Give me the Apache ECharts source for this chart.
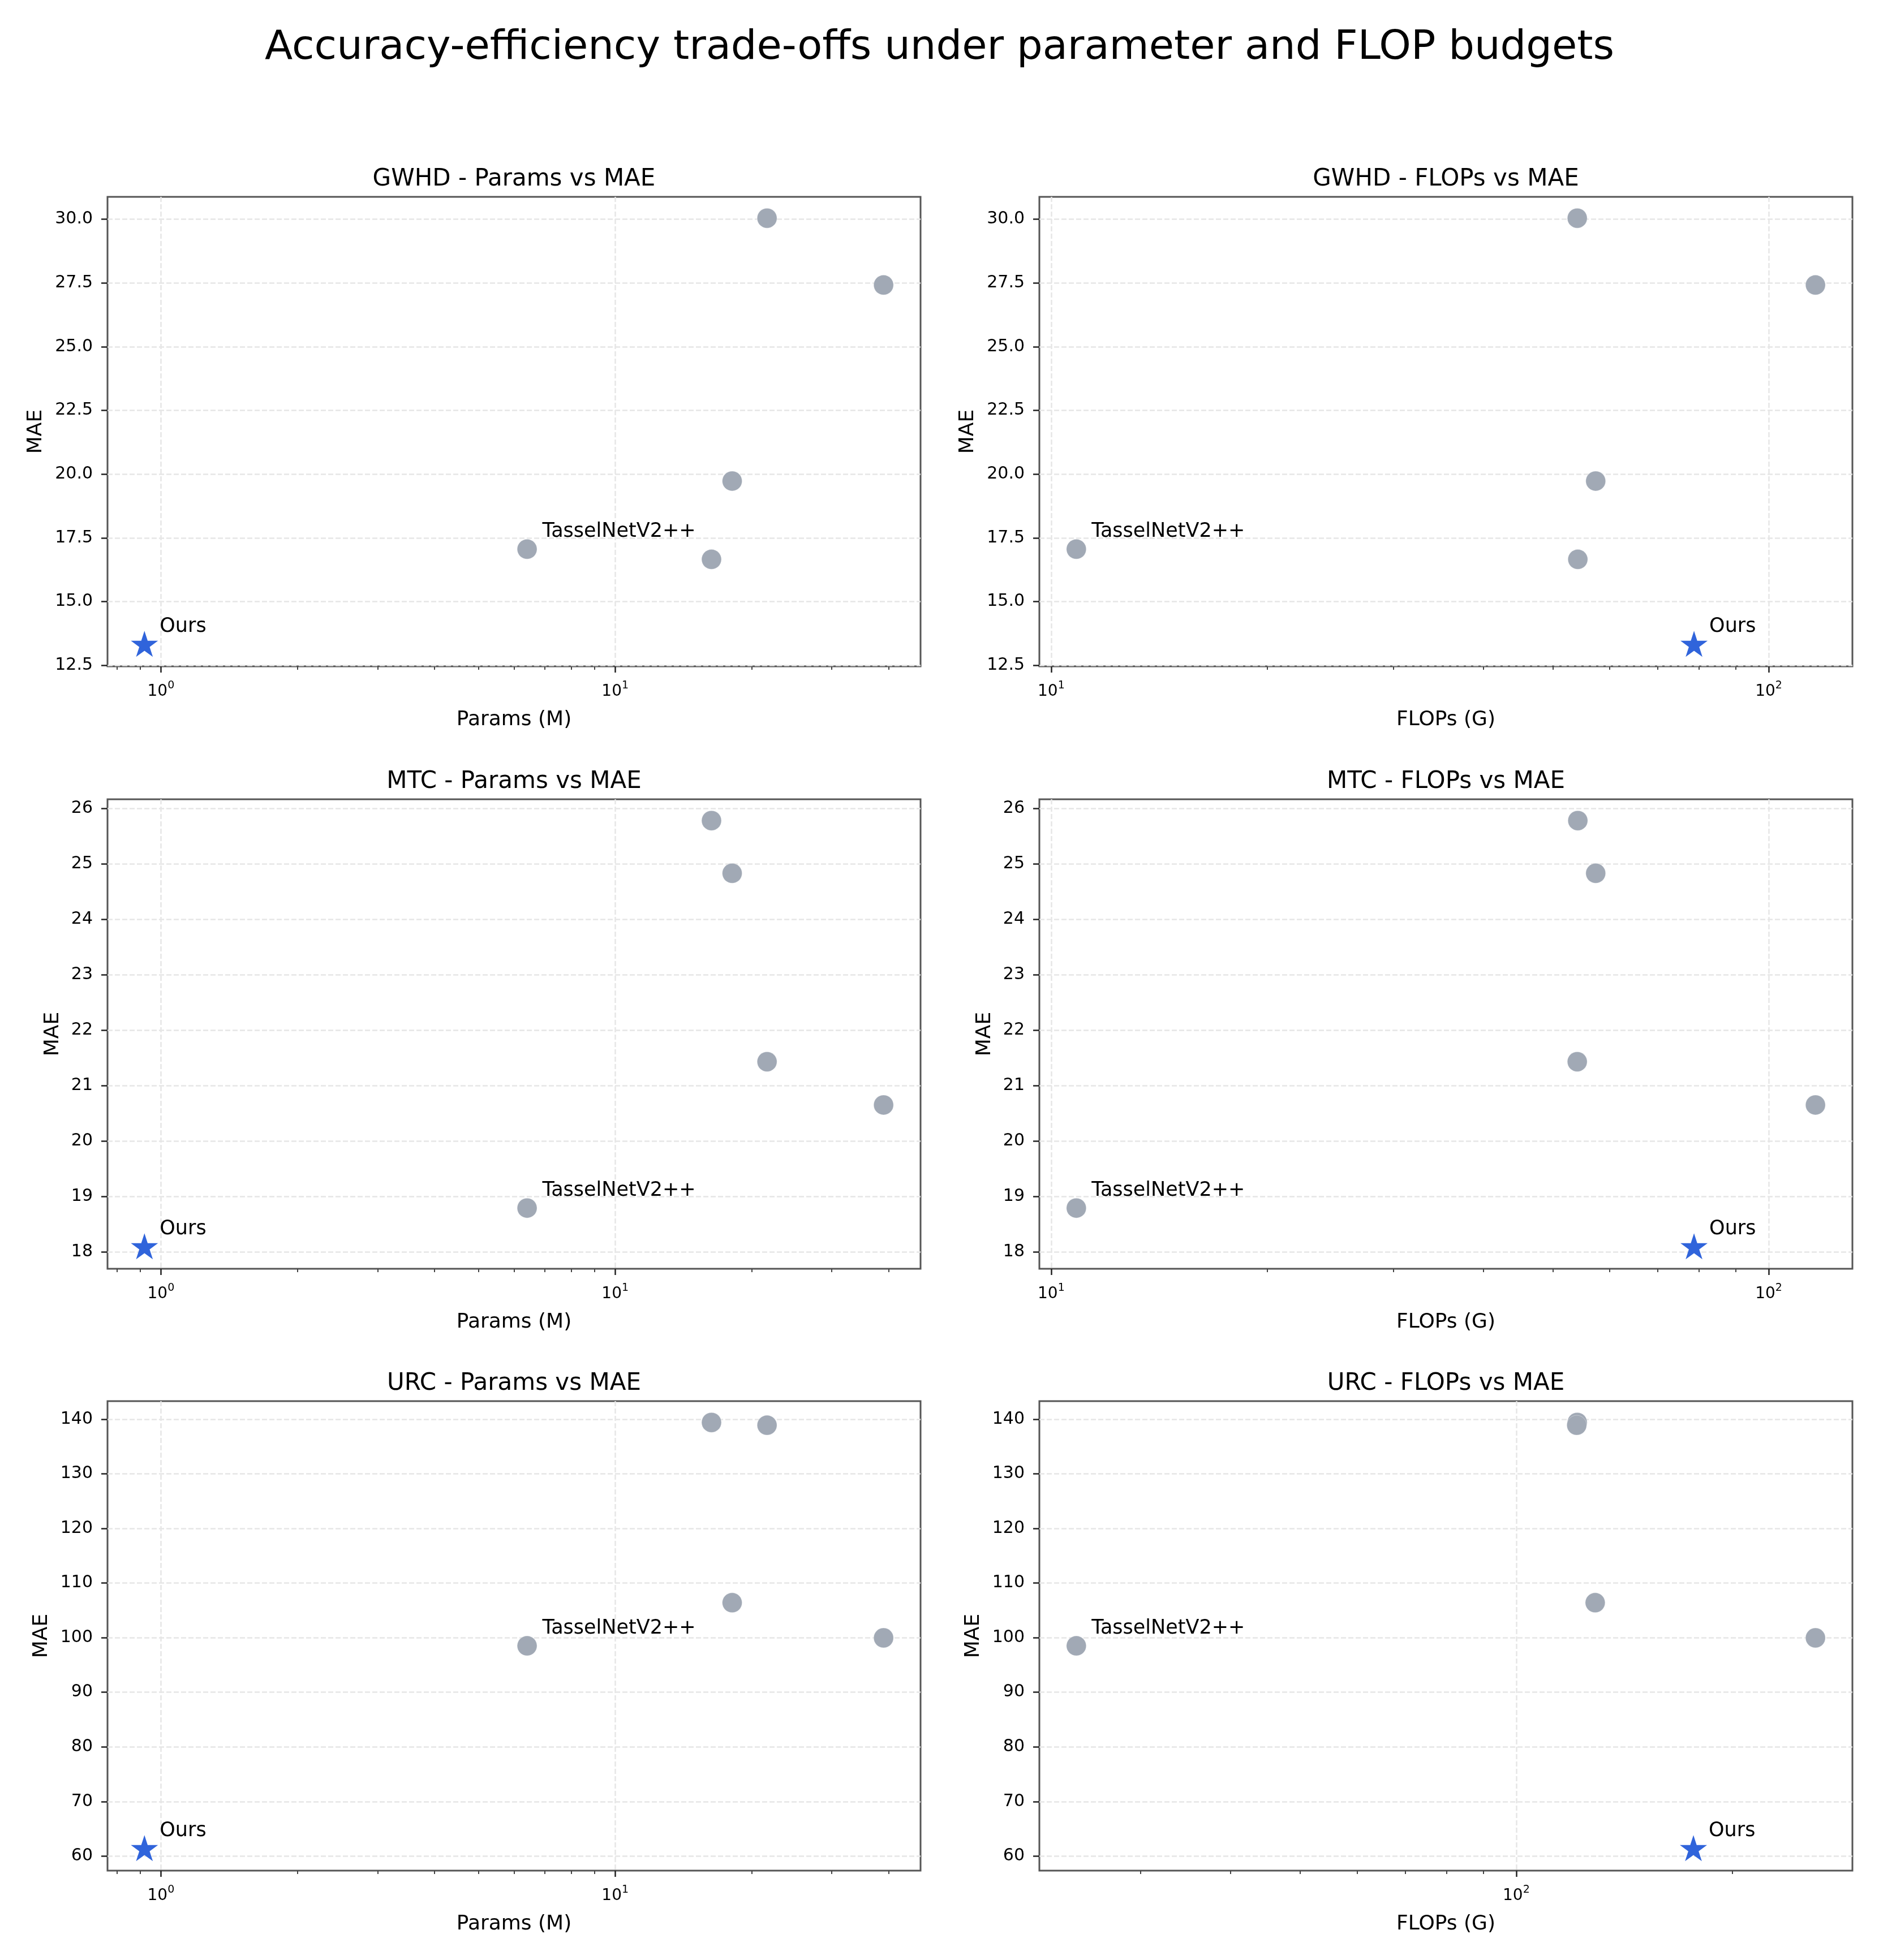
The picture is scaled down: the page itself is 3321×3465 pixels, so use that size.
<!DOCTYPE html>
<html>
<head>
<meta charset="UTF-8">
<title>Accuracy-efficiency trade-offs</title>
<script src="https://cdn.jsdelivr.net/npm/echarts@6/dist/echarts.min.js"></script>
<style>
  *{margin:0;padding:0}
  html,body{background:#fff;}
  #main{width:3321px;height:3465px;}
</style>
</head>
<body>
<div id="main"></div>
<script>
// point order: Ours, TasselNetV2++, then four unlabelled baselines
var pointNames = ['Ours', 'TasselNetV2++', '', '', '', ''];
var paramsM   = [0.92, 6.4, 16.3, 18.1, 21.6, 39.0];
var flopsG    = [78.7, 10.84, 54.2, 57.4, 54.1, 116.2];   // GWHD / MTC
var flopsGUrc = [176.5, 24.4, 121.6, 128.8, 121.4, 261];  // URC
var maeGWHD = [13.3, 17.06, 16.66, 19.73, 30.04, 27.42];
var maeMTC  = [18.08, 18.79, 25.78, 24.83, 21.43, 20.65];
var maeURC  = [61.25, 98.5, 139.4, 106.4, 138.9, 99.96];

// tick labels
var yTicksGWHD = [12.5, 15, 17.5, 20, 22.5, 25, 27.5, 30];
var yTicksMTC  = [18, 19, 20, 21, 22, 23, 24, 25, 26];
var yTicksURC  = [60, 70, 80, 90, 100, 110, 120, 130, 140];
var xMajorParams = [1, 10];
var xMinorParams = [0.8, 0.9, 2, 3, 4, 5, 6, 7, 8, 9, 20, 30, 40];
var xMajorFlops = [10, 100];
var xMinorFlops = [20, 30, 40, 50, 60, 70, 80, 90];
var xMajorFlopsUrc = [100];
var xMinorFlopsUrc = [30, 40, 50, 60, 70, 80, 90, 200];

var FONT = 'DejaVu Sans';
var colLeft = [190, 1837], rowTop = [348, 1413, 2477];
var gridW = 1437, gridH = 830;

var panels = [
  {title: 'GWHD - Params vs MAE', xName: 'Params (M)', x: paramsM, y: maeGWHD, yTicks: yTicksGWHD, dec: 1, major: xMajorParams, minor: xMinorParams, nameGap: 108},
  {title: 'GWHD - FLOPs vs MAE', xName: 'FLOPs (G)', x: flopsG, y: maeGWHD, yTicks: yTicksGWHD, dec: 1, major: xMajorFlops, minor: xMinorFlops, nameGap: 108},
  {title: 'MTC - Params vs MAE', xName: 'Params (M)', x: paramsM, y: maeMTC, yTicks: yTicksMTC, dec: 0, major: xMajorParams, minor: xMinorParams, nameGap: 78},
  {title: 'MTC - FLOPs vs MAE', xName: 'FLOPs (G)', x: flopsG, y: maeMTC, yTicks: yTicksMTC, dec: 0, major: xMajorFlops, minor: xMinorFlops, nameGap: 78},
  {title: 'URC - Params vs MAE', xName: 'Params (M)', x: paramsM, y: maeURC, yTicks: yTicksURC, dec: 0, major: xMajorParams, minor: xMinorParams, nameGap: 98},
  {title: 'URC - FLOPs vs MAE', xName: 'FLOPs (G)', x: flopsGUrc, y: maeURC, yTicks: yTicksURC, dec: 0, major: xMajorFlopsUrc, minor: xMinorFlopsUrc, nameGap: 98}
];

// matplotlib-like 5% autoscale margins
function padLog(a) {
  var l = a.map(Math.log10), mn = Math.min.apply(null, l), mx = Math.max.apply(null, l), p = (mx - mn) * 0.05;
  return [Math.pow(10, mn - p), Math.pow(10, mx + p)];
}
function padLin(a) {
  var mn = Math.min.apply(null, a), mx = Math.max.apply(null, a), p = (mx - mn) * 0.05;
  return [mn - p, mx + p];
}

// 5-point star like matplotlib '*'
function starPath() {
  var pts = [];
  for (var i = 0; i < 10; i++) {
    var r = i % 2 ? 38.2 : 100, a = Math.PI / 5 * i - Math.PI / 2;
    pts.push((r * Math.cos(a)).toFixed(2) + ' ' + (r * Math.sin(a)).toFixed(2));
  }
  return 'path://M' + pts.join(' L') + ' Z';
}
var STAR = starPath();

var option = {
  backgroundColor: '#fff',
  animation: false,
  title: [{
    text: 'Accuracy-efficiency trade-offs under parameter and FLOP budgets',
    left: 'center', top: 49, padding: 0,
    textStyle: {fontFamily: FONT, fontSize: 72, fontWeight: 'normal', color: '#000', lineHeight: 72}
  }],
  grid: [], xAxis: [], yAxis: [], series: []
};

panels.forEach(function (p, i) {
  var left = colLeft[i % 2], top = rowTop[Math.floor(i / 2)];
  var xr = padLog(p.x), yr = padLin(p.y);
  var inX = function (v) { return v >= xr[0] && v <= xr[1]; };

  option.title.push({
    text: p.title, left: left + gridW / 2, top: top - 52, textAlign: 'center', padding: 0,
    textStyle: {fontFamily: FONT, fontSize: 42, fontWeight: 'normal', color: '#000', lineHeight: 42}
  });
  option.grid.push({left: left, top: top, width: gridW, height: gridH, show: true,
    borderColor: '#555', borderWidth: 3, backgroundColor: 'transparent'});

  option.xAxis.push({
    type: 'log', logBase: 10, gridIndex: i, min: xr[0], max: xr[1], position: 'bottom',
    name: p.xName, nameLocation: 'middle', nameGap: 77,
    nameTextStyle: {fontFamily: FONT, fontSize: 36, color: '#000'},
    axisLine: {show: false},
    axisTick: {customValues: p.major.filter(inX), length: 11, lineStyle: {color: '#222', width: 2.5}},
    axisLabel: {
      customValues: p.major.filter(inX), margin: 25,
      formatter: function (v) { return '{b|10}{s|' + Math.round(Math.log10(v)) + '}'; },
      rich: {
        b: {fontFamily: FONT, fontSize: 28, color: '#000', lineHeight: 34, verticalAlign: 'bottom'},
        s: {fontFamily: FONT, fontSize: 19, color: '#000', lineHeight: 16, verticalAlign: 'top'}
      }
    },
    splitLine: {show: true, lineStyle: {color: '#e6e6e6', width: 2.5, type: [9, 4]}}
  });
  // minor ticks
  option.xAxis.push({
    type: 'log', logBase: 10, gridIndex: i, min: xr[0], max: xr[1], position: 'bottom',
    axisLine: {show: false}, axisLabel: {show: false}, splitLine: {show: false},
    axisTick: {customValues: p.minor.filter(inX), length: 6, lineStyle: {color: '#444', width: 2}}
  });

  option.yAxis.push({
    type: 'value', gridIndex: i, min: yr[0], max: yr[1],
    name: 'MAE', nameLocation: 'middle', nameGap: p.nameGap,
    nameTextStyle: {fontFamily: FONT, fontSize: 36, color: '#000'},
    axisLine: {show: false},
    axisTick: {customValues: p.yTicks, length: 11, lineStyle: {color: '#222', width: 2.5}},
    axisLabel: {customValues: p.yTicks, margin: 26, fontFamily: FONT, fontSize: 30, color: '#000',
      formatter: function (v) { return v.toFixed(p.dec); }},
    splitLine: {show: true, lineStyle: {color: '#e6e6e6', width: 2.5, type: [9, 4]}}
  });

  var labelStyle = {position: 'inside', align: 'left', verticalAlign: 'bottom', offset: [27, -13],
    fontFamily: FONT, fontSize: 35, lineHeight: 35, color: '#000', formatter: '{b}'};
  var others = [], ours = [];
  p.x.forEach(function (xv, k) {
    var item = {name: pointNames[k], value: [xv, p.y[k]], label: {show: pointNames[k] !== ''}};
    if (pointNames[k] === 'Ours') ours.push(item); else others.push(item);
  });
  option.series.push({
    type: 'scatter', xAxisIndex: 2 * i, yAxisIndex: i, symbol: 'circle', symbolSize: 35,
    itemStyle: {color: '#a1a9b5', borderColor: 'rgba(255,255,255,0.35)', borderWidth: 1, opacity: 1},
    label: labelStyle, data: others, z: 3
  });
  option.series.push({
    type: 'scatter', xAxisIndex: 2 * i, yAxisIndex: i, symbol: STAR, symbolSize: [48, 46], symbolOffset: [0, -2],
    itemStyle: {color: '#3064db', opacity: 1},
    label: labelStyle, data: ours, z: 4
  });
});

var myChart = echarts.init(document.getElementById('main'));
myChart.setOption(option);
</script>
</body>
</html>
